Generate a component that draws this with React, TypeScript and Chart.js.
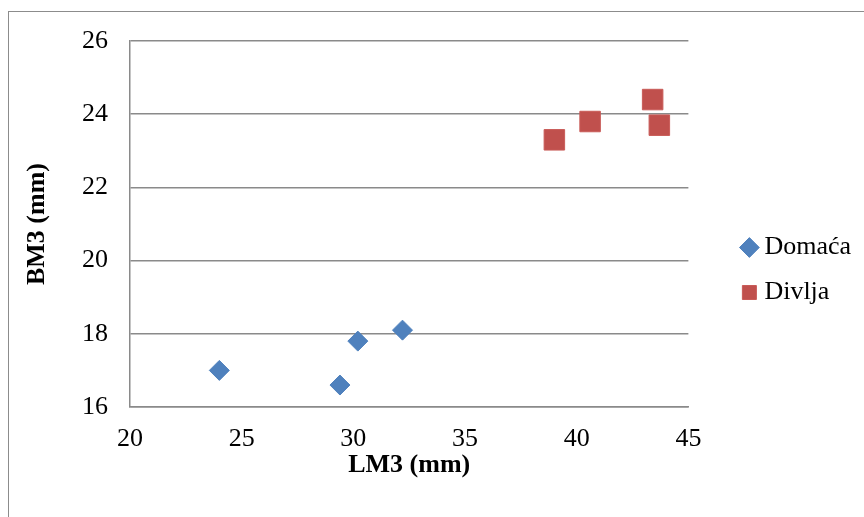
import React, { useEffect, useRef } from "react";
import { Chart, registerables } from "chart.js";

Chart.register(...registerables);

const domacaX = [24.0, 29.4, 30.2, 32.2];
const domacaY = [17.0, 16.6, 17.8, 18.1];
const divljaX = [39.0, 40.6, 43.4, 43.7];
const divljaY = [23.3, 23.8, 24.4, 23.7];
const seriesNames = ["Domaća", "Divlja"];
const xTitle = "LM3 (mm)";
const yTitle = "BM3 (mm)";

const FONT = "'Liberation Serif', 'Times New Roman', serif";

const legendShift = {
  id: "legendShift",
  afterLayout(chart: any) {
    const l = chart.legend;
    if (!l) return;
    const dx = 40;
    const dy = -9;
    l.left += dx;
    l.right += dx;
    l.top += dy;
    l.bottom += dy;
  },
};

export default function App() {
  const ref = useRef<HTMLCanvasElement | null>(null);
  useEffect(() => {
    if (!ref.current) return;
    const chart = new Chart(ref.current, {
      type: "scatter",
      data: {
        datasets: [
          {
            label: seriesNames[0],
            data: domacaX.map((x, i) => ({ x, y: domacaY[i] })),
            pointStyle: "rectRot",
            pointRadius: 10,
            pointHoverRadius: 10,
            backgroundColor: "#4F81BD",
            borderColor: "#4F81BD",
            borderWidth: 1,
          },
          {
            label: seriesNames[1],
            data: divljaX.map((x, i) => ({ x, y: divljaY[i] })),
            pointStyle: "rect",
            pointRadius: 14.5,
            pointHoverRadius: 14.5,
            backgroundColor: "#C0504D",
            borderColor: "#C95B58",
            borderWidth: 1,
          },
        ],
      },
      options: {
        animation: false,
        responsive: false,
        maintainAspectRatio: false,
        layout: { padding: { left: 0, top: 29, bottom: 0, right: 43 } },
        plugins: {
          tooltip: { enabled: false },
          legend: {
            position: "right",
            labels: {
              usePointStyle: true,
              boxWidth: 4,
              boxHeight: 14,
              padding: 19,
              color: "#000",
              font: { family: FONT, size: 26 },
            },
          },
        },
        scales: {
          x: {
            type: "linear",
            min: 20,
            max: 45,
            ticks: {
              stepSize: 5,
              color: "#000",
              padding: 17,
              font: { family: FONT, size: 26 },
            },
            grid: { display: false, drawTicks: false },
            border: { display: true, color: "#8a8a8a", width: 1.5 },
            title: {
              display: true,
              text: xTitle,
              color: "#000",
              font: { family: FONT, size: 26, weight: "bold" },
              padding: { top: 0, bottom: 36 },
            },
            afterFit(scale: any) {
              scale.height = 110;
            },
          },
          y: {
            type: "linear",
            min: 16,
            max: 26,
            ticks: {
              stepSize: 2,
              color: "#000",
              padding: 3,
              font: { family: FONT, size: 26 },
            },
            grid: {
              display: true,
              drawTicks: true,
              tickLength: 19,
              tickColor: "rgba(0,0,0,0)",
              color: "#8a8a8a",
              lineWidth: 1.5,
            },
            border: { display: true, color: "#8a8a8a", width: 1.5 },
            title: {
              display: true,
              text: yTitle,
              color: "#000",
              font: { family: FONT, size: 26, weight: "bold" },
              padding: { top: 13, bottom: 0 },
            },
            afterFit(scale: any) {
              scale.width = 121;
            },
          },
        },
      },
      plugins: [legendShift],
    });
    return () => chart.destroy();
  }, []);

  return (
    <div style={{ position: "fixed", left: 0, top: 0, width: 864, height: 517, overflow: "hidden", background: "#fff" }}>
      <div
        style={{
          position: "absolute",
          left: 8,
          top: 11,
          width: 900,
          height: 560,
          borderLeft: "1px solid #8c8c8c",
          borderTop: "1px solid #8c8c8c",
        }}
      >
        <canvas ref={ref} width={855} height={505} style={{ display: "block", width: 855, height: 505 }} />
      </div>
    </div>
  );
}
